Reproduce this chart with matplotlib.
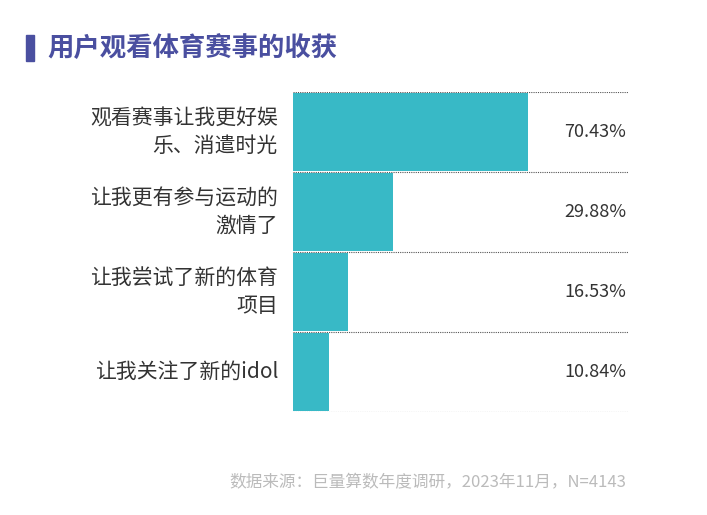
import matplotlib.pyplot as plt
from matplotlib.patches import Rectangle

plt.rcParams['font.family'] = ['Noto Sans CJK SC', 'DejaVu Sans']

labels = ["观看赛事让我更好娱\n乐、消遣时光", "让我更有参与运动的\n激情了", "让我尝试了新的体育\n项目", "让我关注了新的idol"]
values = [70.43, 29.88, 16.53, 10.84]

fig = plt.figure(figsize=(7.07, 5.15), dpi=100)
ax = fig.add_axes([293 / 707, 1 - 412 / 515, 335 / 707, 320 / 515])

n = len(values)
for i, v in enumerate(values):
    y = n - 1 - i
    ax.barh(y, v, height=0.97, align='center', color='#38b9c6')
    ax.text(100, y, f"{v:.2f}%", ha='right', va='center', fontsize=13, color='#333333')
    ax.text(-0.045, y, labels[i], transform=ax.get_yaxis_transform(), ha='right', va='center',
            fontsize=15, color='#333333', linespacing=1.3)

for b in range(n + 1):
    ax.axhline(b - 0.5, color='#555555', linestyle=(0, (1, 1)), linewidth=0.8)

ax.set_xlim(0, 100.5)
ax.set_ylim(-0.5, n - 0.5)
ax.axis('off')

fig.patches.append(Rectangle((26 / 707, 1 - 61 / 515), 8 / 707, 26 / 515,
                             transform=fig.transFigure, color='#4a4fa0'))
fig.text(47 / 707, 1 - 48 / 515, "用户观看体育赛事的收获", fontsize=19, color='#4a4fa0',
         fontweight='bold', va='center')
fig.text(626 / 707, 1 - 483 / 515, "数据来源：巨量算数年度调研，2023年11月，N=4143",
         fontsize=12, color='#bbbbbb', ha='right', va='center')

fig.savefig("out.png", dpi=100)
